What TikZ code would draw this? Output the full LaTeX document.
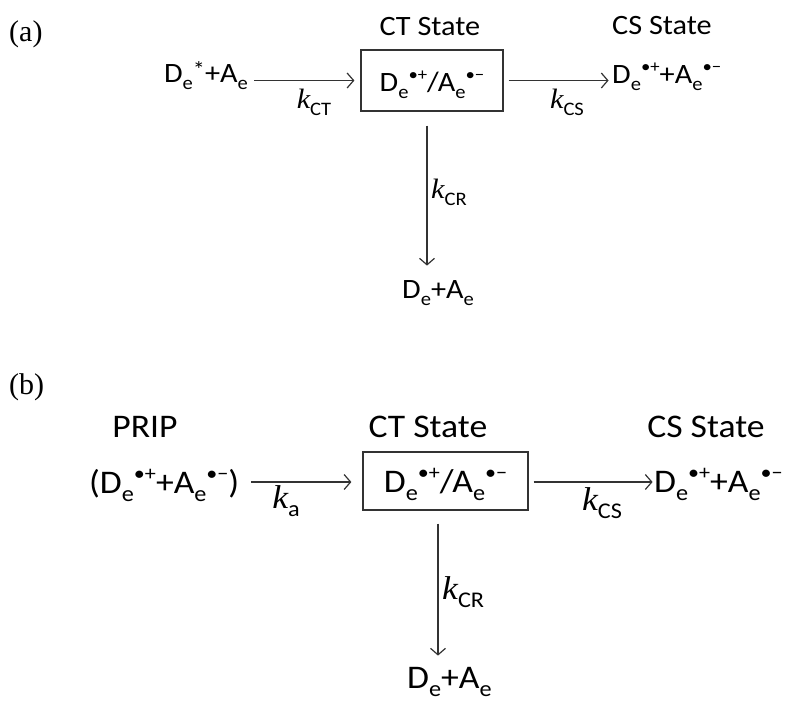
\documentclass[tikz,border=0pt]{standalone}
\usepackage{fontspec}
\setmainfont{Carlito}[FakeStretch=1.08]
\newfontfamily\seriff{Liberation Serif}
\newfontfamily\kfont{Liberation Serif}[FakeStretch=1.08]
\usetikzlibrary{arrows.meta}
\newcommand{\sbx}[1]{\raisebox{-0.26em}{\scalebox{0.68}{#1}}}
\newcommand{\spx}[1]{\raisebox{0.38em}{\scalebox{0.62}{#1}}}
\newcommand{\stx}[1]{\raisebox{0.16em}{\scalebox{0.8}{#1}}}
\newcommand{\kk}[1]{{\kfont\itshape k}\sbx{#1}}
\begin{document}
\begin{tikzpicture}[x=1pt,y=-1pt,
  txa/.style={inner sep=0pt, font=\fontsize{28}{32}\selectfont},
  txb/.style={inner sep=0pt, font=\fontsize{33}{38}\selectfont},
  lab/.style={inner sep=0pt, font=\fontsize{30}{34}\selectfont\seriff},
  boxx/.style={draw=black!80, line width=1.2pt, inner sep=0pt},
  arr/.style={draw=black!80, line width=1.2pt, -{Straight Barb[length=6.5pt,width=15pt,line width=1.2pt]}}]
\useasboundingbox (0,0) rectangle (790,702);
% ---------- (a) ----------
\node[lab, anchor=base west] (pa) at (9,41) {(a)};
\node[txa, anchor=base] (cttitlea) at (430,35) {CT State};
\node[txa, anchor=base] (cstitlea) at (662,34) {CS State};
\node[boxx, minimum width=142pt, minimum height=61pt] (cta) at (432,80.5) {};
\node[txa, anchor=base] (ctta) at (432,91) {D\sbx{e}\spx{•+}/A\sbx{e}\spx{•−}};
\node[txa, anchor=base east] (la) at (248,82) {D\sbx{e}\stx{*}+A\sbx{e}};
\node[txa, anchor=base west] (csa) at (612,83) {D\sbx{e}\spx{•+}+A\sbx{e}\spx{•−}};
\node[txa, anchor=base west] (dea) at (402,298) {D\sbx{e}+A\sbx{e}};
\node[txa, anchor=base] (kcta) at (314,108) {\kk{CT}};
\node[txa, anchor=base] (kcsa) at (567,108) {\kk{CS}};
\node[txa, anchor=base west] (kcra) at (431,198) {\kk{CR}};
\draw[arr] ([xshift=-106pt]cta.west) -- ([xshift=-6pt]cta.west);
\draw[arr] ([xshift=5pt]cta.east) -- ([xshift=105pt]cta.east);
\draw[arr] ([xshift=-5pt,yshift=-14pt]cta.south) -- ([xshift=-5pt,yshift=-154pt]cta.south);
% ---------- (b) ----------
\node[lab, anchor=base west] (pb) at (9,394) {(b)};
\node[txb, anchor=base] (prip) at (145,437) {PRIP};
\node[txb, anchor=base] (cttitleb) at (428,437) {CT State};
\node[txb, anchor=base] (cstitleb) at (706,437) {CS State};
\node[boxx, minimum width=165pt, minimum height=58pt] (ctb) at (445.5,481) {};
\node[txb, anchor=base] (cttb) at (445.5,492) {D\sbx{e}\spx{•+}/A\sbx{e}\spx{•−}};
\node[txb, anchor=base west] (lb) at (89,493) {(D\sbx{e}\spx{•+}+A\sbx{e}\spx{•−})};
\node[txb, anchor=base west] (csb) at (654,492) {D\sbx{e}\spx{•+}+A\sbx{e}\spx{•−}};
\node[txb, anchor=base west] (deb) at (407,688) {D\sbx{e}+A\sbx{e}};
\node[txb, anchor=base] (kab) at (286,508) {\kk{a}};
\node[txb, anchor=base] (kcsb) at (602,510) {\kk{CS}};
\node[txb, anchor=base west] (kcrb) at (442,599) {\kk{CR}};
\draw[arr] ([xshift=-111pt,yshift=-1pt]ctb.west) -- ([xshift=-11pt,yshift=-1pt]ctb.west);
\draw[arr] ([xshift=5pt,yshift=-1pt]ctb.east) -- ([xshift=124pt,yshift=-1pt]ctb.east);
\draw[arr] ([xshift=-7.5pt,yshift=-13pt]ctb.south) -- ([xshift=-7.5pt,yshift=-145pt]ctb.south);
\end{tikzpicture}
\end{document}
